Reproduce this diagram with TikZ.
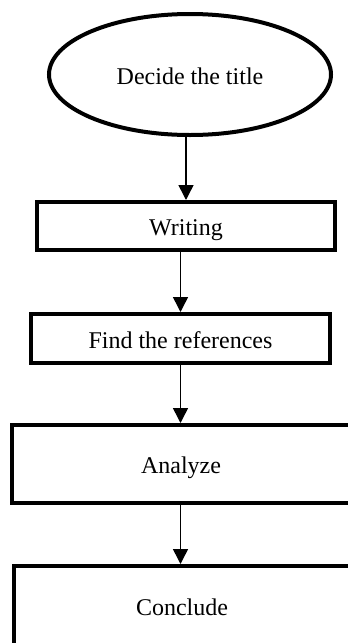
\documentclass[tikz,border=0pt]{standalone}
\usepackage{fontspec}
\setmainfont{Liberation Serif}
\usepackage{tikz}
\usetikzlibrary{arrows.meta,shapes.geometric}

\begin{document}
\begin{tikzpicture}[x=1pt,y=-1pt,
  font=\fontsize{24}{28}\selectfont,
  every node/.style={text height=19pt,text depth=0pt},
  stage/.style={draw=black,line width=4pt,rectangle,inner sep=0pt},
  start/.style={draw=black,line width=4pt,ellipse,inner sep=0pt},
  flow/.style={line width=1.5pt,-{Triangle[length=15pt,width=15pt]}}]
  \path[use as bounding box] (0,0) rectangle (348,643);
  \clip (0,0) rectangle (348,643);

  \node[start,minimum width=282pt,minimum height=121pt] (title) at (190,74.5) {Decide the title};
  \node[stage,minimum width=298pt,minimum height=48pt] (writing) at (186,226) {Writing};
  \node[stage,minimum width=299pt,minimum height=49pt] (refs) at (180.5,338.5) {Find the references};
  \node[stage,minimum width=338pt,minimum height=78pt] (analyze) at (181,464) {Analyze};
  \node[stage,minimum width=336pt,minimum height=80pt] (conclude) at (182,606) {Conclude};

  % arrows between the stages
  \draw[flow] (writing.north |- title.south) -- (writing.north);
  \draw[flow] (refs.north |- writing.south) -- (refs.north);
  \draw[flow] (refs.south) -- (refs.south |- analyze.north);
  \draw[flow] (refs.south |- analyze.south) -- (refs.south |- conclude.north);
\end{tikzpicture}
\end{document}
